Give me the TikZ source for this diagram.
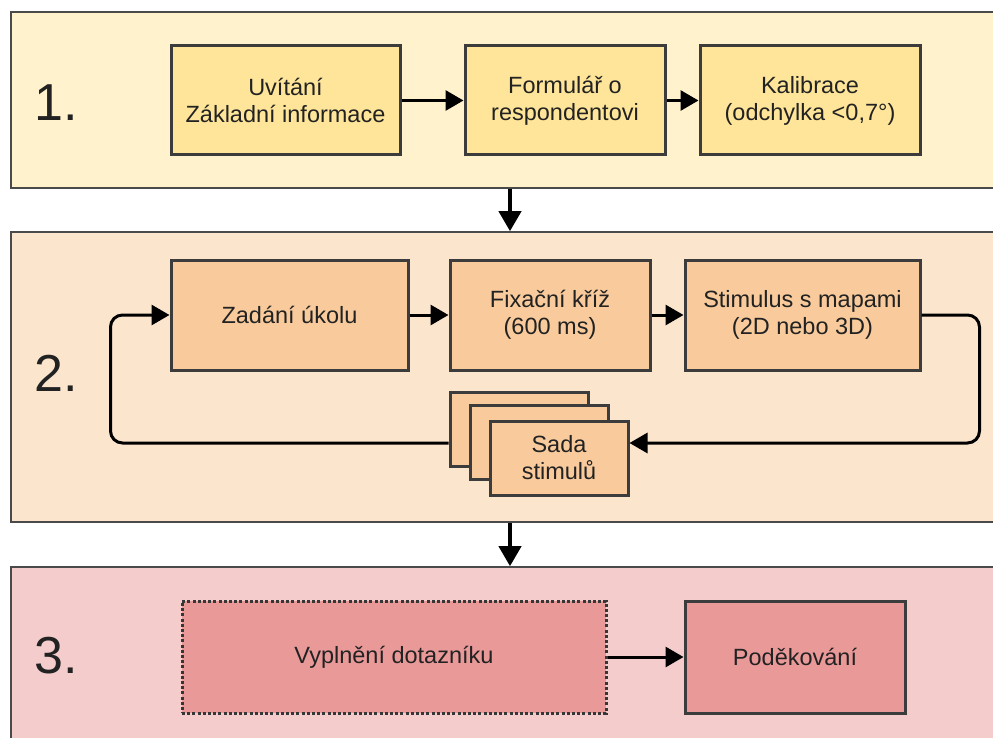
\documentclass[tikz,border=0pt]{standalone}
\usepackage{fontspec}
\setmainfont{Liberation Sans}
\usetikzlibrary{arrows.meta,calc}

\definecolor{paneline}{HTML}{4A4A4A}
\definecolor{boxline}{HTML}{3C3C3C}
\definecolor{txt}{HTML}{222222}
\definecolor{bgA}{HTML}{FFF2CC}
\definecolor{boxA}{HTML}{FFE599}
\definecolor{bgB}{HTML}{FCE5CD}
\definecolor{boxB}{HTML}{F9CB9C}
\definecolor{bgC}{HTML}{F4CCCC}
\definecolor{boxC}{HTML}{EA9999}

\begin{document}
\begin{tikzpicture}[x=1pt,y=-1pt,
  panel/.style={draw=paneline, line width=1.6pt, minimum width=998pt, inner sep=0pt},
  stepbox/.style={draw=boxline, line width=3pt, align=center, text=txt,
    font=\fontsize{23.5}{27}\selectfont, inner sep=0pt},
  phase/.style={text=txt, font=\fontsize{52}{60}\selectfont, inner sep=0pt},
  flow/.style={line width=3pt, -{Triangle[length=18pt,width=20pt]}},
  downflow/.style={line width=4pt, -{Triangle[length=20pt,width=22pt]}},
  loopflow/.style={line width=3pt, rounded corners=12pt}
]
\useasboundingbox (0,0) rectangle (993,738);
\clip (0,0) rectangle (993,738);
\fill[white] (0,0) rectangle (993,738);

% three phase panels
\node[panel, fill=bgA, minimum height=176pt] (p1) at (510,100) {};
\node[panel, fill=bgB, minimum height=290pt] (p2) at (510,377) {};
\node[panel, fill=bgC, minimum height=202pt] (p3) at (510,668) {};

\node[phase] (n1) at (56,103) {1.};
\node[phase] (n2) at (56,373) {2.};
\node[phase] (n3) at (56,656) {3.};

% phase 1
\node[stepbox, fill=boxA, minimum width=229pt, minimum height=109pt] (welcome) at (285.5,100.5) {Uvítání\\Základní informace};
\node[stepbox, fill=boxA, minimum width=200pt, minimum height=109pt] (form) at (565,100.5) {Formulář o\\respondentovi};
\node[stepbox, fill=boxA, minimum width=220pt, minimum height=109pt] (calib) at (810,100.5) {Kalibrace\\(odchylka <0,7°)};
\draw[flow] (welcome.east) -- (form.west);
\draw[flow] (form.east) -- (calib.west);

% phase 2
\node[stepbox, fill=boxB, minimum width=237pt, minimum height=110pt] (task) at (289.5,315) {Zadání úkolu};
\node[stepbox, fill=boxB, minimum width=200pt, minimum height=110pt] (fix) at (550,315) {Fixační kříž\\(600 ms)};
\node[stepbox, fill=boxB, minimum width=235pt, minimum height=110pt] (stim) at (802.5,315) {Stimulus s mapami\\(2D nebo 3D)};
\node[stepbox, fill=boxB, minimum width=138pt, minimum height=74pt] (sada3) at (519,429) {};
\node[stepbox, fill=boxB, minimum width=138pt, minimum height=74pt] (sada2) at (539,442.5) {};
\node[stepbox, fill=boxB, minimum width=138pt, minimum height=74pt] (sada) at (559,458) {Sada\\stimulů};
\coordinate (loopy) at (0,443);
\draw[flow] (task.east) -- (fix.west);
\draw[flow] (fix.east) -- (stim.west);
\draw[loopflow, -{Triangle[length=18pt,width=20pt]}] (stim.east) -- ++(58,0) |- (sada.east |- loopy);
\draw[loopflow, -{Triangle[length=18pt,width=20pt]}] (sada3.west |- loopy) -| ([xshift=-59pt]task.west) -- (task.west);

% phase 3
\node[stepbox, fill=boxC, draw=boxline!90!black, line width=3pt, dash pattern=on 3pt off 2.2pt, minimum width=424pt, minimum height=112pt] (quest) at (394,657) {Vyplnění dotazníku};
\node[stepbox, fill=boxC, minimum width=220pt, minimum height=112pt] (thanks) at (795,657) {Poděkování};
\draw[flow] (quest.east) -- (thanks.west);

% transitions between phases
\draw[downflow] (p1.south) -- (p2.north);
\draw[downflow] (p2.south) -- (p3.north);
\end{tikzpicture}
\end{document}
